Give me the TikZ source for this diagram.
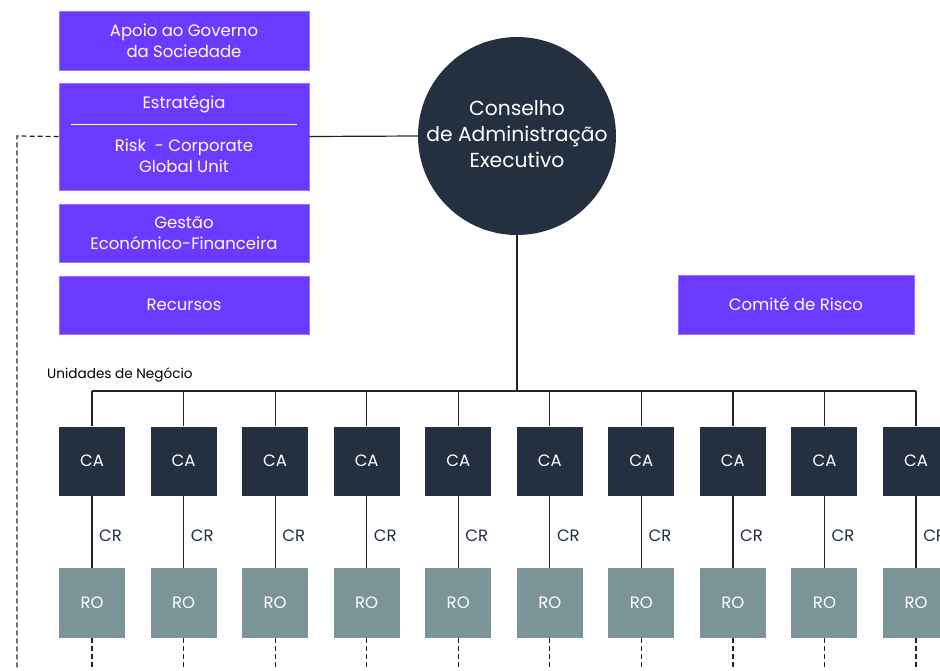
\documentclass[tikz,border=0pt]{standalone}
\usepackage{fontspec}
\setmainfont{Poppins}
\definecolor{purp}{HTML}{6C3AFF}
\definecolor{navy}{HTML}{243040}
\definecolor{slate}{HTML}{7B9497}
\definecolor{linec}{HTML}{222222}
\begin{document}
\begin{tikzpicture}[x=1pt,y=-1pt,
  pbox/.style={fill=purp,draw=purp!70!white,line width=0.6pt,minimum width=250pt,text=white,align=center,font=\fontsize{16.5}{21}\selectfont,inner sep=0pt},
  cabox/.style={fill=navy,minimum width=66pt,minimum height=69pt,text=white,font=\fontsize{16.5}{18}\selectfont,inner sep=0pt},
  robox/.style={fill=slate,minimum width=66pt,minimum height=70pt,text=white,font=\fontsize{16.5}{18}\selectfont,inner sep=0pt},
  conn/.style={draw=linec,line width=1.2pt},
  dconn/.style={draw=linec,line width=1.2pt,dash pattern=on 5pt off 3pt},
  crlab/.style={text=navy,anchor=west,font=\fontsize{16.5}{18}\selectfont,inner sep=0pt}]
\useasboundingbox (0,0) rectangle (940,670);
\fill[white] (0,0) rectangle (940,670);

\node[pbox,minimum height=59pt] (apoio) at (184,40.5) {Apoio ao Governo\\da Sociedade};
\node[pbox,minimum height=107pt] (estr) at (184,136.5) {};
\node[text=white,font=\fontsize{16.5}{21}\selectfont] (estrt) at (184,104) {Estratégia};
\node[text=white,align=center,font=\fontsize{16.5}{21}\selectfont] (riskt) at (184,155.5) {Risk \ - Corporate\\Global Unit};
\draw[white,line width=0.8pt] (71,124) -- (297,124);
\node[pbox,minimum height=58pt] (gest) at (184,233) {Gestão\\Económico-Financeira};
\node[pbox,minimum height=58pt] (recu) at (184,305) {Recursos};

\node[circle,fill=navy,minimum size=198pt,inner sep=0pt,text=white,align=center,font=\fontsize{20.3}{26}\selectfont] (cae) at (517,136) {\raisebox{10pt}{\begin{tabular}{@{}c@{}}Conselho\\de Administração\\Executivo\end{tabular}}};

\node[pbox,minimum width=236pt,minimum height=59pt] (comite) at (796,304.5) {Comité de Risco};

\node[anchor=west,inner sep=0pt,font=\fontsize{13.6}{18}\selectfont] (un) at (47,375) {Unidades de Negócio};

\draw[conn] (estr.east) -- (cae.west);
\coordinate (busc) at (517,391);
\draw[conn] (cae.south) -- (busc);

\coordinate (dl) at (17,136);
\coordinate (dlb) at (17,670);
\draw[dconn] (estr.west) -- (dl) -- (dlb);

\foreach \i in {0,...,9} {
  \pgfmathsetmacro{\xx}{92+91.56*\i}
  \node[cabox] (ca\i) at (\xx,461) {CA};
  \node[robox] (ro\i) at (\xx,603) {RO};
  \coordinate (bt\i) at (\xx,391);
  \coordinate (be\i) at (\xx,670);
  \draw[conn] (bt\i) -- (ca\i.north);
  \draw[conn] (ca\i.south) -- (ro\i.north);
  \node[crlab] (cr\i) at (\xx+7,536) {CR};
  \draw[dconn] (ro\i.south) -- (be\i);
}
\draw[conn] (bt0) -- (bt9);
\end{tikzpicture}
\end{document}
